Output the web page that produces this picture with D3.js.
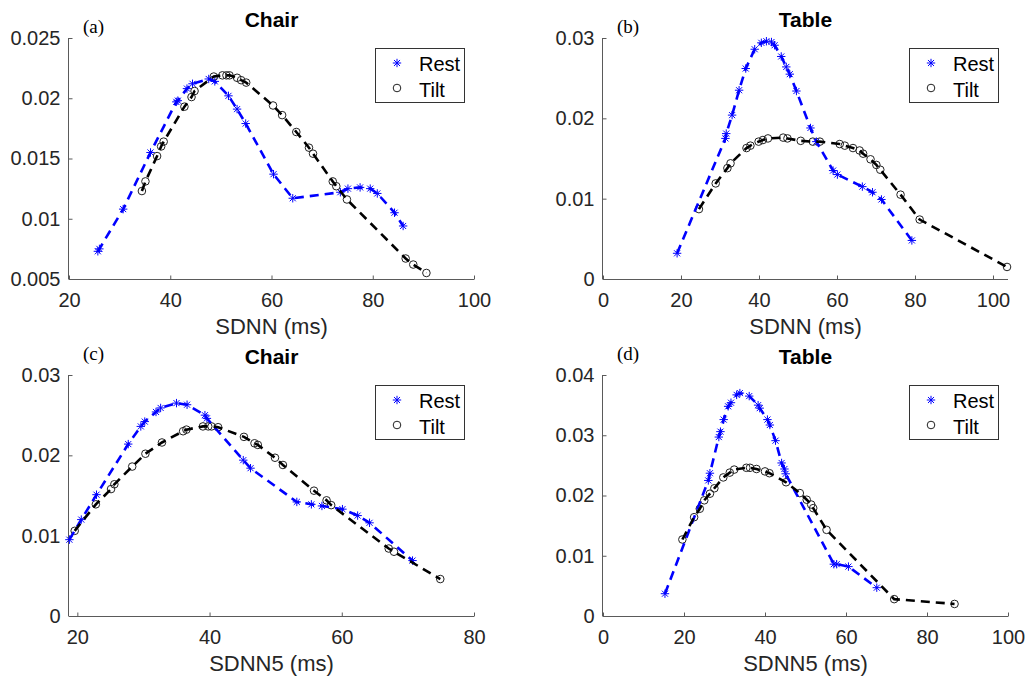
<!DOCTYPE html>
<html>
<head>
<meta charset="utf-8">
<script src="https://cdn.jsdelivr.net/npm/d3@7"></script>
<style>
  body { margin: 0; background: #fff; }
  svg { display: block; }
  text { font-family: "Liberation Sans", Arial, Helvetica, sans-serif; fill: #262626; }
</style>
</head>
<body>
<div id="chart"></div>
<script>
// ---- data: [ms, density] ----
const chairSdnnRest = [[25.7,0.0073],[26.0,0.0075],[30.7,0.0108],[36.1,0.0155],[41.2,0.0197],[41.5,0.0198],
  [43.3,0.0208],[44.4,0.0212],[47.6,0.0216],[48.8,0.0214],[51.5,0.0202],[53.2,0.0191],[54.9,0.0179],
  [60.4,0.0137],[64.2,0.0117],[73.6,0.0122],[75.1,0.0125],[77.5,0.0126],[79.5,0.0125],[80.9,0.0121],
  [84.3,0.0105],[86.0,0.0094]];
const chairSdnnTilt = [[34.4,0.0123],[35.1,0.0131],[37.4,0.0152],[38.2,0.0160],[38.7,0.0164],[42.8,0.0193],
  [44.2,0.0201],[44.8,0.0206],[48.6,0.0218],[50.3,0.0219],[51.1,0.0219],[51.7,0.0219],[53.2,0.0217],
  [54.0,0.0215],[55.0,0.0213],[60.3,0.0194],[62.1,0.0186],[64.9,0.0172],[67.4,0.0159],[68.2,0.0154],
  [72.1,0.0131],[72.8,0.0127],[74.9,0.0116],[86.5,0.0067],[88.0,0.0062],[90.6,0.0055]];

const tableSdnnRest = [[19.0,0.0032],[31.4,0.0175],[31.6,0.0181],[33.1,0.0204],[34.9,0.0235],[36.6,0.0262],
  [38.9,0.0286],[40.6,0.0294],[41.9,0.0296],[43.2,0.0295],[44.0,0.0291],[45.7,0.0277],[47.0,0.0264],
  [47.9,0.0255],[49.6,0.0234],[53.2,0.0188],[54.7,0.0171],[59.0,0.0135],[60.1,0.0130],[66.5,0.0115],
  [69.1,0.0108],[71.4,0.0099],[79.2,0.0048]];
const tableSdnnTilt = [[24.6,0.0087],[28.9,0.0119],[31.9,0.0138],[32.7,0.0144],[36.8,0.0163],[37.8,0.0166],
  [39.9,0.0171],[41.0,0.0173],[42.3,0.0175],[46.2,0.0176],[47.3,0.0175],[50.7,0.0172],[53.8,0.0171],
  [55.6,0.0171],[60.7,0.0168],[62.0,0.0166],[64.1,0.0163],[65.8,0.0160],[66.7,0.0156],[68.6,0.0149],
  [70.1,0.0142],[71.1,0.0136],[76.3,0.0105],[81.2,0.0074],[103.6,0.0015]];

const chairSdnn5Rest = [[18.8,0.0095],[20.6,0.0120],[22.9,0.0151],[27.7,0.0214],[29.6,0.0236],[30.2,0.0242],
  [31.9,0.0254],[32.6,0.0259],[35.0,0.0265],[36.6,0.0263],[39.3,0.0250],[39.6,0.0246],[45.1,0.0194],
  [46.2,0.0184],[53.2,0.0142],[55.4,0.0139],[57.0,0.0137],[60.1,0.0133],[62.4,0.0125],[64.2,0.0116],
  [70.7,0.0069]];
const chairSdnn5Tilt = [[19.6,0.0106],[22.8,0.0139],[25.1,0.0158],[25.6,0.0164],[28.3,0.0186],[30.3,0.0202],
  [32.8,0.0216],[36.0,0.0230],[36.5,0.0232],[39.0,0.0236],[39.8,0.0236],[40.3,0.0236],[41.3,0.0235],
  [45.2,0.0223],[46.8,0.0215],[47.3,0.0213],[49.9,0.0197],[51.1,0.0188],[55.8,0.0156],[57.7,0.0144],
  [58.4,0.0138],[67.1,0.0084],[67.9,0.0080],[74.9,0.0046]];

const tableSdnn5Rest = [[15.3,0.0037],[26.0,0.0225],[26.4,0.0237],[28.6,0.0297],[29.0,0.0306],[29.8,0.0326],
  [30.9,0.0348],[31.6,0.0354],[33.0,0.0367],[33.8,0.0370],[36.1,0.0365],[38.3,0.0350],[38.7,0.0345],
  [40.6,0.0326],[41.2,0.0317],[42.6,0.0291],[44.1,0.0254],[44.8,0.0244],[45.1,0.0236],[57.0,0.0086],
  [57.7,0.0086],[60.6,0.0082],[67.6,0.0047]];
const tableSdnn5Tilt = [[19.6,0.0127],[22.5,0.0164],[23.9,0.0178],[25.0,0.0192],[26.4,0.0203],[27.5,0.0212],
  [29.7,0.0230],[31.3,0.0238],[32.4,0.0243],[35.4,0.0246],[36.3,0.0246],[37.9,0.0244],[40.0,0.0240],
  [41.1,0.0237],[45.2,0.0222],[48.6,0.0204],[50.3,0.0193],[51.4,0.0185],[51.9,0.0179],[55.2,0.0143],
  [71.9,0.0028],[86.8,0.0020]];

const panelLetters = ["(a)", "(b)", "(c)", "(d)"];
const panelTitles = ["Chair", "Table", "Chair", "Table"];
const xLabels = ["SDNN (ms)", "SDNN (ms)", "SDNN5 (ms)", "SDNN5 (ms)"];
const legendNames = ["Rest", "Tilt"];
const xTicksA = [20, 40, 60, 80, 100];
const xTicksB = [0, 20, 40, 60, 80, 100];
const xTicksC = [20, 40, 60, 80];
const xTicksD = [0, 20, 40, 60, 80, 100];
const yTicksA = [0.005, 0.01, 0.015, 0.02, 0.025];
const yTicksB = [0, 0.01, 0.02, 0.03];
const yTicksC = [0, 0.01, 0.02, 0.03];
const yTicksD = [0, 0.01, 0.02, 0.03, 0.04];

const width = 1030, height = 680;
const svg = d3.select("#chart").append("svg").attr("width", width).attr("height", height);

const panels = [
  {left: 69,  right: 474,  top: 38,  bottom: 279, xd: [20, 100],    yd: [0.005, 0.025], xt: xTicksA, yt: yTicksA, rest: chairSdnnRest,  tilt: chairSdnnTilt},
  {left: 603, right: 1008, top: 38,  bottom: 279, xd: [0, 103.85],  yd: [0, 0.03],      xt: xTicksB, yt: yTicksB, rest: tableSdnnRest,  tilt: tableSdnnTilt},
  {left: 69,  right: 474,  top: 375, bottom: 616, xd: [18.74, 80],  yd: [0, 0.03],      xt: xTicksC, yt: yTicksC, rest: chairSdnn5Rest, tilt: chairSdnn5Tilt},
  {left: 603, right: 1008, top: 375, bottom: 616, xd: [0, 100],     yd: [0, 0.04],      xt: xTicksD, yt: yTicksD, rest: tableSdnn5Rest, tilt: tableSdnn5Tilt}
];
const letterBase = [33, 33, 360, 360];

const blue = "#0000ff";
const axisCol = "#5a5a5a";
// matlab '*' marker = plus + cross
function asterisk(x, y, s) {
  const d = s * 0.72;
  return "M" + (x - s) + "," + y + "H" + (x + s) +
         "M" + x + "," + (y - s) + "V" + (y + s) +
         "M" + (x - d) + "," + (y - d) + "L" + (x + d) + "," + (y + d) +
         "M" + (x - d) + "," + (y + d) + "L" + (x + d) + "," + (y - d);
}
const fmt = v => String(+v.toFixed(4));

panels.forEach((p, i) => {
  const x = d3.scaleLinear().domain(p.xd).range([p.left, p.right]);
  const y = d3.scaleLinear().domain(p.yd).range([p.bottom, p.top]);
  const g = svg.append("g");

  // axes (box off, ticks inward)
  const xAxis = g.append("g").attr("transform", "translate(0," + (p.bottom + 0.5) + ")")
    .call(d3.axisBottom(x).tickValues(p.xt).tickSize(-4).tickPadding(12).tickFormat(fmt));
  const yAxis = g.append("g").attr("transform", "translate(" + (p.left - 0.5) + ",0)")
    .call(d3.axisLeft(y).tickValues(p.yt).tickSize(-4).tickPadding(8).tickFormat(fmt));
  [xAxis, yAxis].forEach(a => {
    a.select(".domain").attr("stroke", axisCol).attr("d",
      a === xAxis ? "M" + p.left + ",0H" + p.right : "M0," + p.bottom + "V" + p.top);
    a.selectAll(".tick line").attr("stroke", axisCol);
    a.selectAll(".tick text").attr("fill", "#262626")
      .style("font-size", "20px").style("font-family", "'Liberation Sans', Arial, sans-serif");
  });
  xAxis.selectAll(".tick text").attr("dy", "0.71em").attr("y", 13);

  // title, panel letter, x label
  g.append("text").attr("x", (p.left + p.right) / 2).attr("y", p.top - 11)
    .attr("text-anchor", "middle").style("font-size", "21px").style("font-weight", "bold")
    .style("fill", "#000").text(panelTitles[i]);
  g.append("text").attr("x", p.left + 14).attr("y", letterBase[i])
    .style("font-family", "'Liberation Serif', 'Times New Roman', serif").style("font-size", "19px")
    .style("fill", "#000").text(panelLetters[i]);
  g.append("text").attr("x", (p.left + p.right) / 2).attr("y", p.bottom + 55)
    .attr("text-anchor", "middle").style("font-size", "22px").text(xLabels[i]);

  const line = d3.line().x(d => x(d[0])).y(d => y(d[1]));

  // markers first, then the dashed lines
  g.append("path")
    .attr("d", p.rest.map(d => asterisk(x(d[0]), y(d[1]), 4.2)).join(""))
    .attr("stroke", blue).attr("stroke-width", 1).attr("fill", "none");
  g.selectAll(".tilt").data(p.tilt).join("circle")
    .attr("cx", d => x(d[0])).attr("cy", d => y(d[1])).attr("r", 3.8)
    .attr("fill", "none").attr("stroke", "#222").attr("stroke-width", 1);

  g.append("path").datum(p.rest).attr("d", line)
    .attr("fill", "none").attr("stroke", blue).attr("stroke-width", 2.6).attr("stroke-dasharray", "9,6");
  g.append("path").datum(p.tilt).attr("d", line)
    .attr("fill", "none").attr("stroke", "#000").attr("stroke-width", 2.6).attr("stroke-dasharray", "9,6");

  // legend
  const lx = p.right - 99, ly = p.top + 10;
  const leg = g.append("g").attr("transform", "translate(" + lx + "," + ly + ")");
  leg.append("rect").attr("x", 0.5).attr("y", 0.5).attr("width", 89).attr("height", 54)
    .attr("fill", "#fff").attr("stroke", "#333").attr("stroke-width", 1);
  leg.append("path").attr("d", asterisk(22, 15, 4.2)).attr("stroke", blue).attr("fill", "none");
  leg.append("circle").attr("cx", 22).attr("cy", 40).attr("r", 3.8)
    .attr("fill", "none").attr("stroke", "#222");
  legendNames.forEach((n, k) => {
    leg.append("text").attr("x", 44).attr("y", 23 + k * 26).style("font-size", "20px")
      .style("fill", "#000").text(n);
  });
});
</script>
</body>
</html>
